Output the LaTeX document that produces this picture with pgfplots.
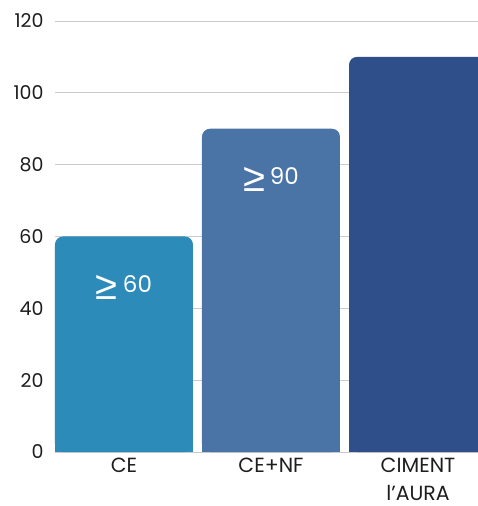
\documentclass[border=0pt]{standalone}
\usepackage{fontspec}
\setmainfont{Poppins}
\newfontfamily\symfont{Liberation Sans}
\usepackage{pgfplots}
\pgfplotsset{compat=1.18}
\definecolor{c1}{RGB}{44,139,185}
\definecolor{c2}{RGB}{74,116,166}
\definecolor{c3}{RGB}{47,79,138}
\definecolor{txt}{RGB}{30,30,30}
\newcommand\gelabel[1]{{\fontsize{40}{40}\symfont\raisebox{-7pt}{≥}}\hspace{5pt}#1}
\begin{document}
\begin{tikzpicture}
\begin{axis}[
  scale only axis, width=423pt, height=431pt,
  xmin=-0.469, xmax=2.408, ymin=0, ymax=120,
  ytick={0,20,...,120}, xtick={0,1,2},
  xticklabels={CE, CE+NF, {CIMENT\\l’AURA}},
  xticklabel style={align=center, font=\fontsize{20.5}{28}\selectfont, text=txt, yshift=-2pt},
  yticklabel style={font=\fontsize{19}{20}\selectfont, text=txt, xshift=-8pt},
  /pgf/number format/assume math mode=true,
  ymajorgrids, grid style={draw=black!20, line width=0.8pt},
  axis line style={draw=none},
  major tick length=0pt,
  every node near coord/.style={anchor=center, yshift=-51pt, text=white, font=\fontsize{23}{23}\selectfont},
]
% square lower parts (hide rounding of the bottom corners)
\addplot[ybar, bar width=138pt, bar shift=0pt, fill=c1, draw=none, forget plot] coordinates {(0,20)};
\addplot[ybar, bar width=138pt, bar shift=0pt, fill=c2, draw=none, forget plot] coordinates {(1,20)};
\addplot[ybar, bar width=138pt, bar shift=0pt, fill=c3, draw=none, forget plot] coordinates {(2,20)};
% bars
\addplot[ybar, bar width=138pt, bar shift=0pt, fill=c1, draw=none, rounded corners=8pt,
  nodes near coords, point meta=explicit symbolic] coordinates {(0,60) [\gelabel{60}]};
\addplot[ybar, bar width=138pt, bar shift=0pt, fill=c2, draw=none, rounded corners=8pt,
  nodes near coords, point meta=explicit symbolic] coordinates {(1,90) [\gelabel{90}]};
\addplot[ybar, bar width=138pt, bar shift=0pt, fill=c3, draw=none, rounded corners=8pt] coordinates {(2,110)};
\end{axis}
\pgfresetboundingbox
\path (-55pt,-54pt) rectangle (423pt,452pt);
\end{tikzpicture}
\end{document}
